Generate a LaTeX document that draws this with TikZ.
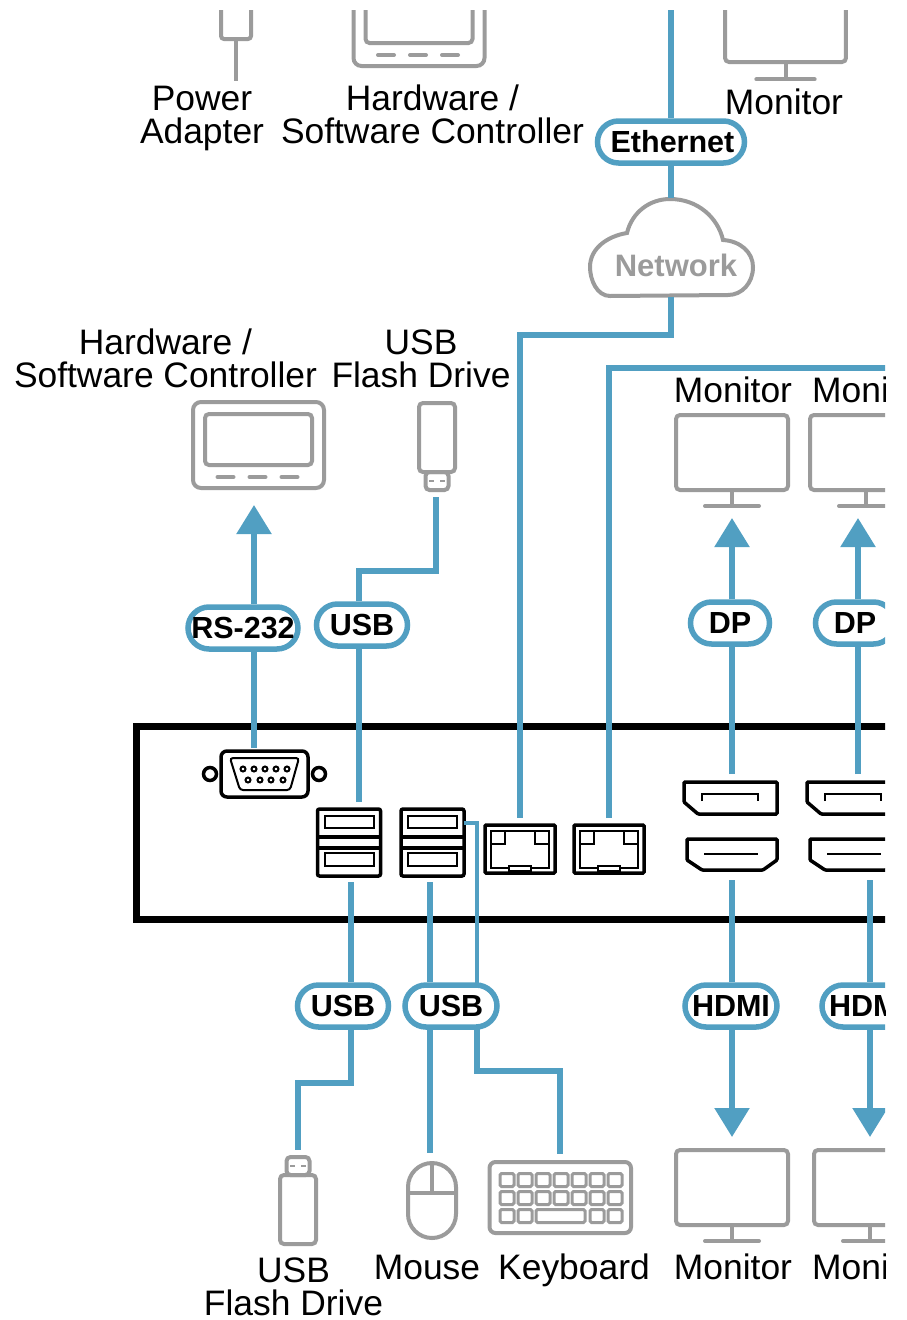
\documentclass[tikz,border=0pt]{standalone}
\usepackage{fontspec}
\setmainfont{Liberation Sans}
\usepackage{tikz}
\usetikzlibrary{shapes,arrows.meta}
\definecolor{wireblue}{HTML}{519FC2}
\definecolor{icongray}{HTML}{9B9B9B}
\tikzstyle{devlabel} = [align=center, anchor=base, inner sep=0pt,
    font=\fontsize{35.4}{33}\selectfont]
\tikzstyle{pill} = [draw=wireblue, fill=white, line width=5.5pt, rounded rectangle,
    inner sep=0pt, minimum height=42pt, font=\fontsize{30.5}{31}\selectfont\bfseries]
\tikzstyle{wire} = [draw=wireblue, line width=5.5pt]
\tikzstyle{bigarrow} = [wire, -{Triangle[length=29pt,width=34pt]}]
\tikzstyle{icon} = [draw=icongray, line width=4pt, rounded corners=4pt]
\tikzstyle{port} = [draw=black, line width=3.5pt, rounded corners=2pt]
\tikzstyle{thinport} = [draw=black, line width=2pt]
\tikzset{
  monitor/.pic={
    \draw [icon] (-56,0) rectangle (56,75);
    \draw [icon, rounded corners=0pt] (0,75) -- (0,90);
    \draw [icon, rounded corners=0pt, line cap=round] (-27,91) -- (27,91);
  },
  tablet/.pic={
    \draw [icon, rounded corners=8pt] (-65.5,0) rectangle (65.5,86);
    \draw [icon] (-53.5,12) rectangle (53.5,63);
    \foreach \dashx in {-33,-1,31}
      \draw [icon, rounded corners=0pt, line cap=round] (\dashx-8,75) -- (\dashx+8,75);
  },
  flashdrive/.pic={
    \draw [icon] (-11.5,-18) rectangle (11.5,0);
    \draw [icon] (-18,0) rectangle (18,69);
    \draw [draw=icongray, line width=2.5pt] (-8,-9) -- (-3,-9) (3,-9) -- (8,-9);
  },
  rjport/.pic={
    \draw [port, rounded corners=1pt] (0,0) rectangle (70,48);
    \draw [thinport] (6,6) rectangle (64,43);
    \draw [thinport] (6,19) -- (20,19) -- (20,6) (50,6) -- (50,19) -- (64,19);
    \draw [thinport, fill=white] (24,46) -- (24,40.5) -- (46,40.5) -- (46,46) -- cycle;
  },
  usbstack/.pic={
    \draw [port] (0,0) rectangle (63,67);
    \draw [port, rounded corners=0pt] (0,28) -- (63,28) (0,39) -- (63,39);
    \draw [thinport] (7,7) rectangle (56,19);
    \draw [thinport] (7,44) rectangle (56,57);
  },
  dpport/.pic={
    \draw [port, rounded corners=1pt] (0,0) -- (93,0) -- (93,32) -- (14,32) -- (0,20) -- cycle;
    \draw [thinport] (18,19) -- (18,12) -- (74,12) -- (74,19);
  },
  hdmiport/.pic={
    \draw [port, rounded corners=1pt] (0,0) -- (90,0) -- (90,21) -- (76,31) -- (15,31) -- (0,21) -- cycle;
    \draw [thinport] (17,15) -- (71,15);
  }
}

\begin{document}
\begin{tikzpicture}[x=1pt, y=-1pt, node distance=125pt]
  \useasboundingbox (0,0) rectangle (906,1320);
  \clip (0,10) rectangle (885,1320);

  % Icons along the top
  \draw [icon, rounded corners=3pt] (221,0) -- (221,39) -- (251,39) -- (251,0);
  \draw [icon, rounded corners=0pt] (236,39) -- (236,81);
  \pic at (419,-20) {tablet};
  \pic [scale=1.08] at (785.5,-19) {monitor};

  % Labels
  \node [devlabel] (powerlabel) at (202,143) {Power\\Adapter};
  \node [devlabel] (ctrltoplabel) at (432.5,143) {Hardware /\\Software Controller};
  \node [devlabel] (montoplabel) at (784,114) {Monitor};
  \node [devlabel] (ctrllabel) at (165.5,387) {Hardware /\\Software Controller};
  \node [devlabel] (flashtoplabel) at (421,387) {USB\\Flash Drive};
  \node [devlabel] (dplabelA) at (733,402) {Monitor};
  \node [devlabel, anchor=base west] (dplabelB) at (812,402) {Monitor};
  \node [devlabel] (flashlabel) at (293.5,1315) {USB\\Flash Drive};
  \node [devlabel] (mouselabel) at (427,1279) {Mouse};
  \node [devlabel] (kbdlabel) at (574,1279) {Keyboard};
  \node [devlabel] (hdmilabelA) at (733,1279) {Monitor};
  \node [devlabel, anchor=base west] (hdmilabelB) at (812,1279) {Monitor};

  % Place the device and its ports
  \draw [line width=7pt] (136,726.5) rectangle (960,919);
  \draw [port, rounded corners=6pt] (221,751) rectangle (308,797);
  \draw [thinport, rounded corners=3pt] (230,758) -- (299,758) -- (290,790) -- (240,790) -- cycle;
  \draw [port] (210,774) circle (6.5);
  \draw [port] (319,774) circle (6.5);
  \foreach \pinx in {243,254,265,276,287}
    \draw [thinport] (\pinx,769) circle (2.5);
  \foreach \pinx in {248,260,271,283}
    \draw [thinport] (\pinx,780) circle (2.5);
  \pic at (317.5,809) {usbstack};
  \pic at (401,809) {usbstack};
  \pic at (485,825) {rjport};
  \pic at (574,825) {rjport};
  \pic at (684,782) {dpport};
  \pic at (807,782) {dpport};
  \pic at (687,839) {hdmiport};
  \pic at (810,839) {hdmiport};

  % Place the far devices
  \pic at (258.5,402) {tablet};
  \pic [yscale=-1] at (437,472) {flashdrive};
  \pic at (732,415) {monitor};
  \pic at (866,415) {monitor};
  \pic at (732,1150) {monitor};
  \pic at (870,1150) {monitor};
  \pic at (298,1175) {flashdrive};
  % mouse
  \draw [icon, rounded corners=24pt] (408,1163) rectangle (456,1238);
  \draw [icon, rounded corners=0pt] (408,1193) -- (456,1193) (432,1163) -- (432,1193);
  % keyboard
  \draw [icon, rounded corners=6pt] (489.5,1162) rectangle (631,1233);
  \foreach \keyx in {507,525,543,561,579,597,615}
    \foreach \keyy in {1180,1198}
      \draw [icon, line width=3pt, rounded corners=1.5pt] (\keyx-7,\keyy-6.5) rectangle (\keyx+7,\keyy+6.5);
  \foreach \keyx in {507,525,597,615}
    \draw [icon, line width=3pt, rounded corners=1.5pt] (\keyx-7,1209.5) rectangle (\keyx+7,1222.5);
  \draw [icon, line width=3pt, rounded corners=1.5pt] (536,1209.5) rectangle (585,1222.5);

  % Cloud
  \draw [draw=icongray, line width=4pt] (610,296) .. controls (597,296) and (590,280) .. (590,267)
    .. controls (590,248) and (608,236) .. (627,233) .. controls (632,212) and (650,199) .. (670,199)
    .. controls (698,199) and (718,218) .. (723,240) .. controls (740,241) and (753,252) .. (753,267)
    .. controls (753,283) and (742,295) .. (728,295) -- cycle;
  \node [text=icongray, inner sep=0pt, font=\fontsize{31}{31}\selectfont\bfseries] (network) at (676,265) {Network};

  % Pills
  \node [pill, minimum width=147pt] (ethernet) at (671,142) {\hspace{3pt}Ethernet};
  \node [pill, minimum width=110pt] (rspill) at (243,628) {RS-232};
  \node [pill, minimum width=91pt] (usbup) at (362,625) {USB};
  \node [pill, minimum width=79pt] (dpA) at (730,623) {DP};
  \node [pill, minimum width=79pt, right of=dpA] (dpB) {DP};
  \node [pill, minimum width=91pt] (usbflash) at (343,1006) {USB};
  \node [pill, minimum width=92pt] (usbhid) at (451,1006) {USB};
  \node [pill, minimum width=92pt] (hdmiA) at (731,1006) {HDMI};
  \node [pill, minimum width=92pt, right of=hdmiA, node distance=137pt] (hdmiB) {HDMI};

  % Connection ends
  \coordinate (ethtop) at (671,0);
  \coordinate (cloudtop) at (671,198);
  \coordinate (cloudout) at (671,297);
  \coordinate (lanA) at (520,818);
  \coordinate (lanB) at (609,818);
  \coordinate (rsport) at (254,748);
  \coordinate (rstip) at (254,505);
  \coordinate (usbportA) at (359,802);
  \coordinate (flashtop) at (436,497);
  \coordinate (usbportB) at (351,882);
  \coordinate (flashbot) at (298,1150);
  \coordinate (usbportC) at (430,882);
  \coordinate (mousetop) at (430,1153);
  \coordinate (usbportD) at (464,823);
  \coordinate (kbdtop) at (560,1154);
  \coordinate (dpportA) at (732,774);
  \coordinate (dptipA) at (732,518);
  \coordinate (dpportB) at (858,774);
  \coordinate (dptipB) at (858,518);
  \coordinate (hdmiportA) at (732,880);
  \coordinate (hdmitipA) at (732,1137);
  \coordinate (hdmiportB) at (870,880);
  \coordinate (hdmitipB) at (870,1137);

  % Connections
  \draw [wire] (ethtop) -- (ethtop |- ethernet.north);
  \draw [wire] (ethtop |- ethernet.south) -- (cloudtop);
  \draw [wire] (cloudout) -- (671,335) -- (520,335) -- (lanA);
  \draw [wire] (lanB) -- (609,368) -- (900,368);
  \draw [wire] (rsport) -- (rsport |- rspill.south);
  \draw [bigarrow] (rsport |- rspill.north) -- (rstip);
  \draw [wire] (usbportA) -- (usbportA |- usbup.south);
  \draw [wire] (usbportA |- usbup.north) -- (359,571) -- (436,571) -- (flashtop);
  \draw [wire] (usbportB) -- (usbportB |- usbflash.north);
  \draw [wire] (usbportB |- usbflash.south) -- (351,1083) -- (298,1083) -- (flashbot);
  \draw [wire] (usbportC) -- (usbportC |- usbhid.north);
  \draw [wire] (usbportC |- usbhid.south) -- (mousetop);
  \draw [wire, line width=4.5pt] (usbportD) -- (477,823) -- (477,983);
  \draw [wire] (477,1029) -- (477,1071) -- (560,1071) -- (kbdtop);
  \draw [wire] (dpportA) -- (dpportA |- dpA.south);
  \draw [bigarrow] (dpportA |- dpA.north) -- (dptipA);
  \draw [wire] (dpportB) -- (dpportB |- dpB.south);
  \draw [bigarrow] (dpportB |- dpB.north) -- (dptipB);
  \draw [wire] (hdmiportA) -- (hdmiportA |- hdmiA.north);
  \draw [bigarrow] (hdmiportA |- hdmiA.south) -- (hdmitipA);
  \draw [wire] (hdmiportB) -- (hdmiportB |- hdmiB.north);
  \draw [bigarrow] (hdmiportB |- hdmiB.south) -- (hdmitipB);
\end{tikzpicture}
\end{document}
